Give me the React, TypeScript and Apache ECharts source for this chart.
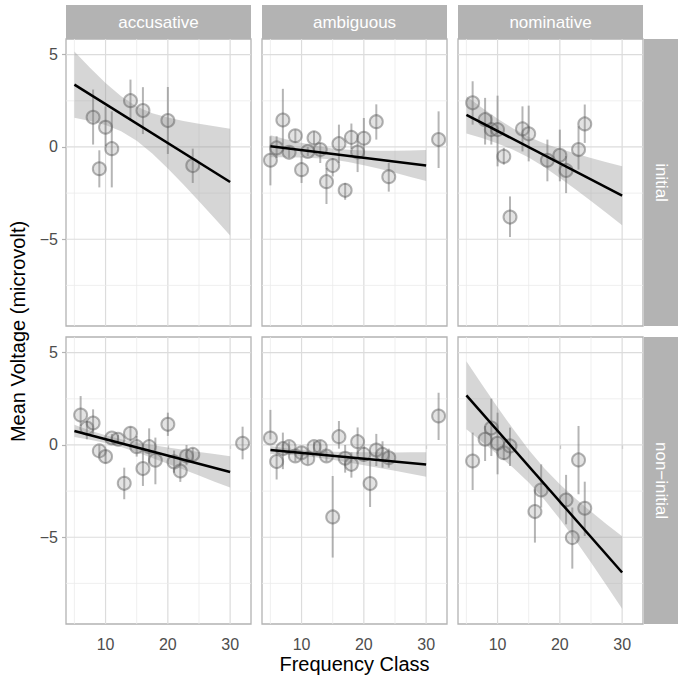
import React, { useEffect, useRef } from "react";
import * as echarts from "echarts";

// ---------- labels ----------
const COLUMNS = ["accusative", "ambiguous", "nominative"];
const ROWS = ["initial", "non−initial"];
const X_TICKS = [10, 20, 30];
const X_MINOR = [5, 15, 25];
const Y_TICKS = [-5, 0, 5];
const Y_MINOR = [-7.5, -2.5, 2.5];
const X_TITLE = "Frequency Class";
const Y_TITLE = "Mean Voltage (microvolt)";

// ---------- data: accusative / initial ----------
const accInitX = [8, 9, 10, 11, 14, 16, 20, 24];
const accInitY = [1.61, -1.18, 1.07, -0.09, 2.51, 1.97, 1.43, -1.01];
const accInitLo = [0.13, -2.19, 0.05, -2.19, 1.52, 0.7, -0.38, -1.95];
const accInitHi = [3.11, -0.18, 2.2, 1.93, 3.65, 3.24, 3.25, -0.09];
const accInitLine = [3.38, -1.9];
const accInitHw = [1.79, 1.44, 1.14, 0.95, 0.93, 1.09, 1.38, 1.72, 2.1, 2.49, 2.89];

// ---------- ambiguous / initial ----------
const ambInitX = [5, 6, 7, 8, 9, 10, 11, 12, 13, 14, 15, 16, 17, 18, 19, 20, 22, 24, 32];
const ambInitY = [-0.72, -0.05, 1.46, -0.29, 0.61, -1.23, -0.24, 0.49, -0.14, -1.88, -1.01, 0.18, -2.35, 0.52, -0.27, 0.47, 1.37, -1.61, 0.4];
const ambInitLo = [-2.08, -0.6, 0.13, -0.6, 0.22, -1.95, -0.5, 0.13, -0.87, -3.09, -1.6, -0.87, -2.86, -0.11, -1.36, -0.51, 0.4, -2.42, -1.14];
const ambInitHi = [0.58, 0.58, 3.15, 0.04, 0.94, -0.5, 0.0, 0.85, 0.22, -1.14, -0.6, 1.21, -1.95, 1.27, 0.31, 1.57, 2.31, -0.87, 1.93];
const ambInitLine = [0.04, -1.01];
const ambInitHw = [0.6, 0.49, 0.4, 0.33, 0.3, 0.33, 0.4, 0.49, 0.6, 0.72, 0.84];

// ---------- nominative / initial ----------
const nomInitX = [6, 8, 9, 10, 11, 12, 14, 15, 18, 20, 21, 23, 24];
const nomInitY = [2.39, 1.48, 0.94, 0.94, -0.51, -3.8, 0.98, 0.71, -0.72, -0.45, -1.27, -0.14, 1.25];
const nomInitLo = [1.21, 0.13, 0.13, -1.05, -0.96, -4.88, -0.24, -0.78, -1.86, -1.86, -2.5, -1.23, 0.22];
const nomInitHi = [3.56, 2.66, 1.75, 2.78, -0.05, -2.68, 2.2, 2.24, 0.4, 0.94, -0.5, 1.12, 2.3];
const nomInitLine = [1.74, -2.64];
const nomInitHw = [1.01, 0.82, 0.67, 0.57, 0.56, 0.64, 0.79, 0.97, 1.17, 1.38, 1.6];

// ---------- accusative / non-initial ----------
const accNonX = [6, 7, 8, 9, 10, 11, 12, 13, 14, 15, 16, 17, 18, 20, 21, 22, 23, 24, 32];
const accNonY = [1.62, 0.92, 1.19, -0.32, -0.63, 0.38, 0.31, -2.08, 0.63, -0.09, -1.28, -0.09, -0.83, 1.12, -0.92, -1.41, -0.6, -0.51, 0.09];
const accNonLo = [1.03, 0.31, 0.6, -0.6, -1.0, 0.15, 0.05, -2.94, 0.2, -0.63, -2.22, -1.0, -2.13, 0.49, -1.5, -2.0, -1.1, -0.9, -0.78];
const accNonHi = [2.65, 1.3, 1.93, 0.0, -0.3, 0.6, 0.55, -1.23, 1.0, 0.49, -0.32, 0.9, 0.4, 1.75, -0.3, -0.95, 0.0, -0.15, 0.99];
const accNonLine = [0.76, -1.46];
const accNonHw = [0.33, 0.25, 0.21, 0.21, 0.27, 0.35, 0.44, 0.54, 0.64, 0.75, 0.85];

// ---------- ambiguous / non-initial ----------
const ambNonX = [5, 6, 7, 8, 9, 10, 11, 12, 13, 14, 15, 16, 17, 18, 19, 20, 21, 22, 23, 24, 32];
const ambNonY = [0.38, -0.9, -0.2, -0.09, -0.6, -0.42, -0.74, -0.09, -0.09, -0.6, -3.9, 0.45, -0.72, -1.05, 0.18, -0.51, -2.09, -0.27, -0.51, -0.69, 1.57];
const ambNonLo = [0.3, -1.87, -1.31, -0.4, -0.9, -0.75, -1.05, -0.4, -0.45, -0.9, -6.1, -0.2, -1.5, -1.77, -0.5, -0.9, -3.36, -1.14, -1.23, -1.23, 0.27];
const ambNonHi = [1.9, -0.33, 0.67, 0.2, -0.3, -0.1, -0.4, 0.2, 0.25, -0.3, -1.68, 1.3, 0.0, -0.4, 0.95, -0.1, -0.87, 0.6, 0.2, -0.2, 2.83];
const ambNonLine = [-0.27, -1.06];
const ambNonHw = [0.22, 0.17, 0.15, 0.17, 0.22, 0.28, 0.35, 0.43, 0.5, 0.58, 0.66];

// ---------- nominative / non-initial ----------
const nomNonX = [6, 8, 9, 10, 11, 12, 16, 17, 21, 22, 23, 24];
const nomNonY = [-0.87, 0.31, 0.92, 0.09, -0.42, -0.05, -3.61, -2.44, -2.98, -5.02, -0.81, -3.43];
const nomNonLo = [-2.44, -0.87, -0.6, -1.59, -0.81, -1.14, -5.29, -3.39, -4.3, -6.7, -2.67, -4.93];
const nomNonHi = [0.67, 1.03, 2.51, 1.75, -0.1, 0.94, -2.4, -1.05, -1.62, -3.39, 1.03, -1.99];
const nomNonLine = [2.69, -6.91];
const nomNonHw = [1.84, 1.55, 1.28, 1.05, 0.89, 0.85, 0.94, 1.13, 1.38, 1.66, 1.96];

const LINE_X = [5, 30];
const BAND_X = [5, 7.5, 10, 12.5, 15, 17.5, 20, 22.5, 25, 27.5, 30];

const PANELS = [
  { x: accInitX, y: accInitY, lo: accInitLo, hi: accInitHi, line: accInitLine, hw: accInitHw },
  { x: ambInitX, y: ambInitY, lo: ambInitLo, hi: ambInitHi, line: ambInitLine, hw: ambInitHw },
  { x: nomInitX, y: nomInitY, lo: nomInitLo, hi: nomInitHi, line: nomInitLine, hw: nomInitHw },
  { x: accNonX, y: accNonY, lo: accNonLo, hi: accNonHi, line: accNonLine, hw: accNonHw },
  { x: ambNonX, y: ambNonY, lo: ambNonLo, hi: ambNonHi, line: ambNonLine, hw: ambNonHw },
  { x: nomNonX, y: nomNonY, lo: nomNonLo, hi: nomNonHi, line: nomNonLine, hw: nomNonHw },
];

// ---------- layout ----------
const FONT = "'Liberation Sans', Arial, Helvetica, sans-serif";
const GRID_LEFT = [66, 262, 458];
const GRID_TOP = [39, 337];
const GRID_W = 185;
const GRID_H = 287;
const STRIP = 34;
const X_MIN = 3.65;
const X_MAX = 33.35;
const Y_MIN = -9.7;
const Y_MAX = 5.85;

function buildOption() {
  const grid: any[] = [];
  const xAxis: any[] = [];
  const yAxis: any[] = [];
  const series: any[] = [];
  const graphic: any[] = [];

  PANELS.forEach((p, i) => {
    const row = Math.floor(i / 3);
    const col = i % 3;
    grid.push({
      left: GRID_LEFT[col],
      top: GRID_TOP[row],
      width: GRID_W,
      height: GRID_H,
      show: true,
      borderColor: "#b3b3b3",
      borderWidth: 1.3,
      backgroundColor: "#ffffff",
      containLabel: false,
    });
    xAxis.push({
      type: "value",
      gridIndex: i,
      min: X_MIN,
      max: X_MAX,
      axisLine: { show: false },
      splitLine: { show: false },
      axisTick: {
        show: row === 1,
        customValues: X_TICKS,
        length: 4,
        lineStyle: { color: "#b3b3b3", width: 1.2 },
      },
      axisLabel: {
        show: row === 1,
        customValues: X_TICKS,
        color: "#4d4d4d",
        fontSize: 16,
        fontFamily: FONT,
        margin: 12,
      },
    });
    yAxis.push({
      type: "value",
      gridIndex: i,
      min: Y_MIN,
      max: Y_MAX,
      axisLine: { show: false },
      splitLine: { show: false },
      axisTick: {
        show: col === 0,
        customValues: Y_TICKS,
        length: 4,
        lineStyle: { color: "#b3b3b3", width: 1.2 },
      },
      axisLabel: {
        show: col === 0,
        customValues: Y_TICKS,
        color: "#4d4d4d",
        fontSize: 16,
        fontFamily: FONT,
        margin: 8,
        formatter: (v: number) => String(v).replace("-", "\u2212"),
      },
    });

    // grid lines
    const gl: any[] = [];
    X_TICKS.forEach((v) => gl.push([v, 0, 1, 1]));
    X_MINOR.forEach((v) => gl.push([v, 0, 1, 0]));
    Y_TICKS.forEach((v) => gl.push([10, v, 0, 1]));
    Y_MINOR.forEach((v) => gl.push([10, v, 0, 0]));
    series.push({
      type: "custom",
      xAxisIndex: i,
      yAxisIndex: i,
      silent: true,
      z: 1,
      data: gl,
      renderItem: (params: any, api: any) => {
        const cs = params.coordSys;
        const vertical = api.value(2) === 1;
        const major = api.value(3) === 1;
        const style = {
          stroke: major ? "#dcdcdc" : "#ebebeb",
          lineWidth: major ? 1.2 : 0.8,
        };
        if (vertical) {
          const px = api.coord([api.value(0), 0])[0];
          return { type: "line", shape: { x1: px, y1: cs.y, x2: px, y2: cs.y + cs.height }, style };
        }
        const py = api.coord([10, api.value(1)])[1];
        return { type: "line", shape: { x1: cs.x, y1: py, x2: cs.x + cs.width, y2: py }, style };
      },
    });

    // confidence band
    const [y5, y30] = p.line;
    const bandData = BAND_X.map((bx, k) => {
      const c = y5 + ((y30 - y5) * (bx - LINE_X[0])) / (LINE_X[1] - LINE_X[0]);
      return [bx, c - p.hw[k], c + p.hw[k]];
    });
    series.push({
      type: "custom",
      xAxisIndex: i,
      yAxisIndex: i,
      silent: true,
      z: 2,
      data: [0],
      renderItem: (params: any, api: any) => {
        const upper = bandData.map((d) => api.coord([d[0], d[2]]));
        const lower = bandData
          .slice()
          .reverse()
          .map((d) => api.coord([d[0], d[1]]));
        return {
          type: "polygon",
          shape: { points: upper.concat(lower) },
          style: { fill: "rgba(153,153,153,0.4)" },
        };
      },
    });

    // error bars
    series.push({
      type: "custom",
      xAxisIndex: i,
      yAxisIndex: i,
      silent: true,
      z: 3,
      data: p.x.map((xv, k) => [xv, p.lo[k], p.hi[k]]),
      encode: { x: 0, y: [1, 2] },
      renderItem: (params: any, api: any) => {
        const a = api.coord([api.value(0), api.value(1)]);
        const b = api.coord([api.value(0), api.value(2)]);
        return {
          type: "line",
          shape: { x1: a[0], y1: a[1], x2: b[0], y2: b[1] },
          style: { stroke: "rgba(120,120,120,0.55)", lineWidth: 2 },
        };
      },
    });

    // points
    series.push({
      type: "scatter",
      xAxisIndex: i,
      yAxisIndex: i,
      z: 4,
      symbol: "circle",
      symbolSize: 13,
      data: p.x.map((xv, k) => [xv, p.y[k]]),
      itemStyle: {
        color: "rgba(140,140,140,0.3)",
        borderColor: "rgba(85,85,85,0.55)",
        borderWidth: 2,
      },
    });

    // regression line
    series.push({
      type: "line",
      xAxisIndex: i,
      yAxisIndex: i,
      z: 5,
      showSymbol: false,
      symbol: "none",
      data: LINE_X.map((lx, k) => [lx, p.line[k]]),
      lineStyle: { color: "#000000", width: 2.5 },
    });
  });

  // top strips
  COLUMNS.forEach((name, col) => {
    graphic.push({
      type: "rect",
      shape: { x: GRID_LEFT[col], y: GRID_TOP[0] - STRIP, width: GRID_W, height: STRIP },
      style: { fill: "#b3b3b3" },
      z: 10,
    });
    graphic.push({
      type: "text",
      x: GRID_LEFT[col] + GRID_W / 2,
      y: GRID_TOP[0] - STRIP / 2,
      style: {
        text: name,
        fill: "#ffffff",
        font: `17px ${FONT}`,
        textAlign: "center",
        textVerticalAlign: "middle",
      },
      z: 11,
    });
  });
  // right strips
  const stripX = GRID_LEFT[2] + GRID_W + 1;
  ROWS.forEach((name, row) => {
    graphic.push({
      type: "rect",
      shape: { x: stripX, y: GRID_TOP[row], width: STRIP, height: GRID_H },
      style: { fill: "#b3b3b3" },
      z: 10,
    });
    graphic.push({
      type: "text",
      x: stripX + STRIP / 2,
      y: GRID_TOP[row] + GRID_H / 2,
      rotation: -Math.PI / 2,
      style: {
        text: name,
        fill: "#ffffff",
        font: `17px ${FONT}`,
        textAlign: "center",
        textVerticalAlign: "middle",
      },
      z: 11,
    });
  });
  // axis titles
  graphic.push({
    type: "text",
    x: (GRID_LEFT[0] + GRID_LEFT[2] + GRID_W) / 2,
    y: 664,
    style: {
      text: X_TITLE,
      fill: "#000000",
      font: `20px ${FONT}`,
      textAlign: "center",
      textVerticalAlign: "middle",
    },
  });
  graphic.push({
    type: "text",
    x: 18,
    y: (GRID_TOP[0] + GRID_TOP[1] + GRID_H) / 2,
    rotation: Math.PI / 2,
    style: {
      text: Y_TITLE,
      fill: "#000000",
      font: `20px ${FONT}`,
      textAlign: "center",
      textVerticalAlign: "middle",
    },
  });

  return {
    animation: false,
    backgroundColor: "#ffffff",
    textStyle: { fontFamily: FONT },
    grid,
    xAxis,
    yAxis,
    series,
    graphic,
  };
}

export default function App() {
  const ref = useRef<HTMLDivElement>(null);
  useEffect(() => {
    if (!ref.current) return;
    const chart = echarts.init(ref.current, undefined, { renderer: "svg" });
    chart.setOption(buildOption() as any);
    return () => chart.dispose();
  }, []);
  return (
    <div
      ref={ref}
      style={{ position: "fixed", left: 0, top: 0, width: 682, height: 682, background: "#fff" }}
    />
  );
}
